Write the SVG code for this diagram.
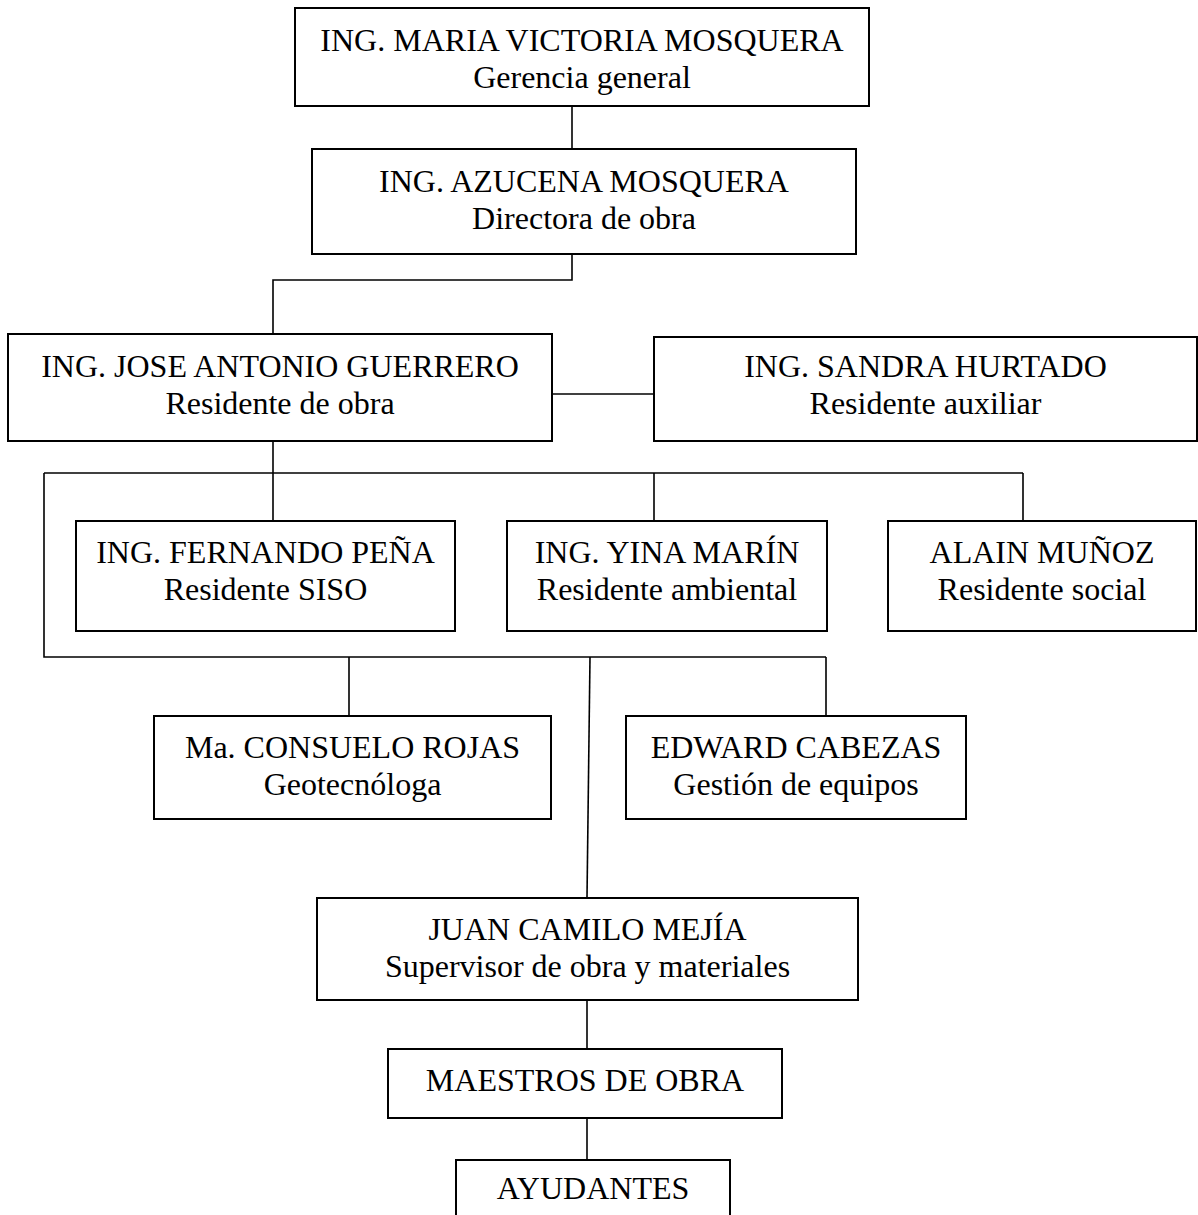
<svg xmlns="http://www.w3.org/2000/svg" width="1198" height="1215" viewBox="0 0 1198 1215">
<style>
.box{fill:#fff;stroke:#000;stroke-width:2}
.t{font-family:"Liberation Serif","Times New Roman",serif;font-size:32px;fill:#000;text-anchor:middle}
.c{fill:none;stroke:#000;stroke-width:1.6}
</style>
<rect width="1198" height="1215" fill="#fff"/>
<g id="connectors">
<path class="c" d="M572 106V149"/>
<path class="c" d="M572 254V280H273V334"/>
<path class="c" d="M552 394H654"/>
<path class="c" d="M273 441V473"/>
<path class="c" d="M44 473H1023"/>
<path class="c" d="M273 473V521M654 473V521M1023 473V521"/>
<path class="c" d="M44 473V657H826"/>
<path class="c" d="M349 657V716M826 657V716"/>
<path class="c" d="M590 657L587 898"/>
<path class="c" d="M587 1000V1049"/>
<path class="c" d="M587 1118V1160"/>
</g>
<g id="n1"><rect class="box" x="295" y="8" width="574" height="98"/><text class="t" x="582" y="51">ING. MARIA VICTORIA MOSQUERA</text><text class="t" x="582" y="88">Gerencia general</text></g>
<g id="n2"><rect class="box" x="312" y="149" width="544" height="105"/><text class="t" x="584" y="192">ING. AZUCENA MOSQUERA</text><text class="t" x="584" y="229">Directora de obra</text></g>
<g id="n3"><rect class="box" x="8" y="334" width="544" height="107"/><text class="t" x="280" y="377">ING. JOSE ANTONIO GUERRERO</text><text class="t" x="280" y="414">Residente de obra</text></g>
<g id="n4"><rect class="box" x="654" y="337" width="543" height="104"/><text class="t" x="925.5" y="377">ING. SANDRA HURTADO</text><text class="t" x="925.5" y="414">Residente auxiliar</text></g>
<g id="n5"><rect class="box" x="76" y="521" width="379" height="110"/><text class="t" x="265.5" y="563">ING. FERNANDO PEÑA</text><text class="t" x="265.5" y="600">Residente SISO</text></g>
<g id="n6"><rect class="box" x="507" y="521" width="320" height="110"/><text class="t" x="667" y="563">ING. YINA MARÍN</text><text class="t" x="667" y="600">Residente ambiental</text></g>
<g id="n7"><rect class="box" x="888" y="521" width="308" height="110"/><text class="t" x="1042" y="563">ALAIN MUÑOZ</text><text class="t" x="1042" y="600">Residente social</text></g>
<g id="n8"><rect class="box" x="154" y="716" width="397" height="103"/><text class="t" x="352.5" y="758">Ma. CONSUELO ROJAS</text><text class="t" x="352.5" y="795">Geotecnóloga</text></g>
<g id="n9"><rect class="box" x="626" y="716" width="340" height="103"/><text class="t" x="796" y="758">EDWARD CABEZAS</text><text class="t" x="796" y="795">Gestión de equipos</text></g>
<g id="n10"><rect class="box" x="317" y="898" width="541" height="102"/><text class="t" x="587.5" y="940">JUAN CAMILO MEJÍA</text><text class="t" x="587.5" y="977">Supervisor de obra y materiales</text></g>
<g id="n11"><rect class="box" x="388" y="1049" width="394" height="69"/><text class="t" x="585" y="1091">MAESTROS DE OBRA</text></g>
<g id="n12"><rect class="box" x="456" y="1160" width="274" height="70"/><text class="t" x="593" y="1199">AYUDANTES</text></g>
</svg>
